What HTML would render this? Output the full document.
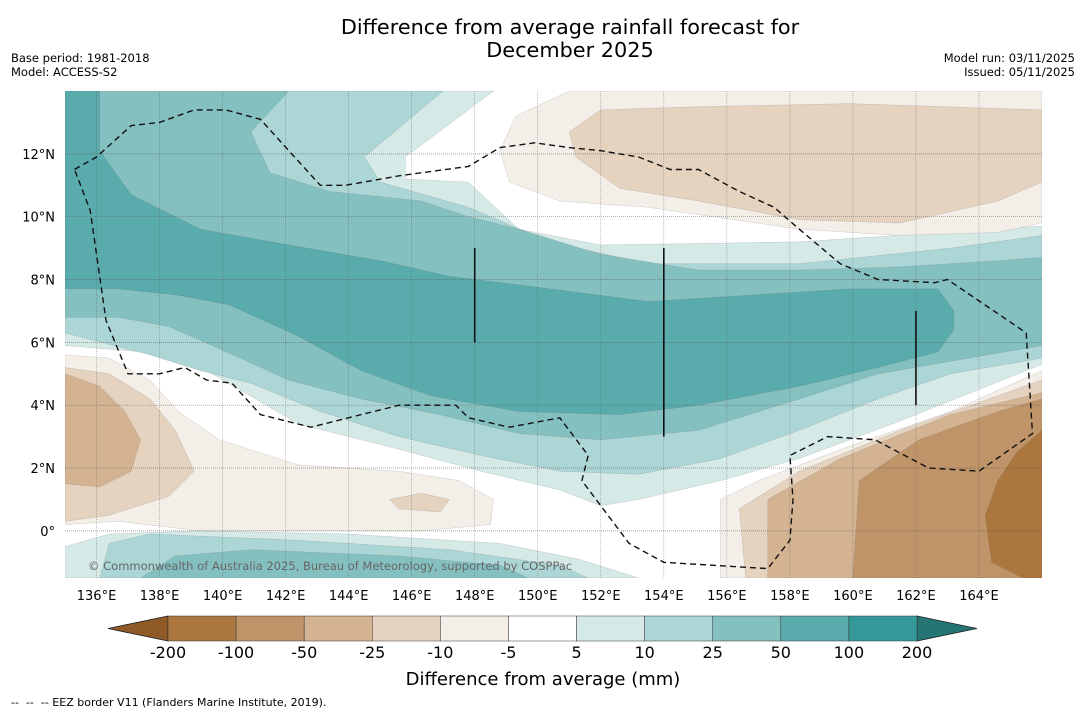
<!DOCTYPE html>
<html><head><meta charset="utf-8"><style>
body{margin:0;background:#fff;font-family:"Liberation Sans","DejaVu Sans",sans-serif;}
svg{display:block}
</style></head><body>
<svg width="1085" height="713" viewBox="0 0 1085 713" font-family="DejaVu Sans, Liberation Sans, sans-serif">
<rect x="0" y="0" width="1085" height="713" fill="#fff"/>
<text x="570" y="34" font-size="20.8" text-anchor="middle">Difference from average rainfall forecast for</text>
<text x="570" y="57" font-size="20.8" text-anchor="middle">December 2025</text>
<text x="11" y="62" font-size="11.5">Base period: 1981-2018</text>
<text x="11" y="76" font-size="11.5">Model: ACCESS-S2</text>
<text x="1075" y="62" font-size="11.5" text-anchor="end">Model run: 03/11/2025</text>
<text x="1075" y="76" font-size="11.5" text-anchor="end">Issued: 05/11/2025</text>
<defs><clipPath id="mapclip"><rect x="65" y="91" width="977" height="487"/></clipPath></defs>
<g id="map" clip-path="url(#mapclip)"></g>
<g id="axes"></g>
<g id="cbar"></g>
<text x="543" y="685" font-size="18" text-anchor="middle">Difference from average (mm)</text>
<text x="11" y="706" font-size="11" style="white-space:pre" xml:space="preserve">--  --  -- EEZ border V11 (Flanders Marine Institute, 2019).</text>
</svg>
<script>
const NS="http://www.w3.org/2000/svg";
// axis extents
const lonMin=135,lonMax=166,latMin=-1.5,latMax=14;
const lonTicks=[136,138,140,142,144,146,148,150,152,154,156,158,160,162,164];
const latTicks=[0,2,4,6,8,10,12];
const levelLabels=["-200","-100","-50","-25","-10","-5","5","10","25","50","100","200"];
const levelColors=["#ab773f","#bf9468","#d3b392","#e5d2bf","#f3eee8","#ffffff","#d5e9e7","#acd5d5","#85c0c0","#5aabac","#35999a"];
// contour regions in lon/lat
const teal5=[[135,14],[148.6,14],[145.8,11.9],[145.8,11.2],[147.8,11.1],[149.4,9.6],[152,9.1],[158.3,9.2],[166,9.7],[166,5.3],[161.5,3.5],[158.3,2.3],[155.8,1.6],[153.2,1.0],[152,0.8],[150.7,1.3],[148.2,1.9],[145.6,2.6],[142.4,3.4],[140.2,4.7],[138.6,5.6],[135,5.9]];
const teal10=[[135,14],[147.0,14],[144.5,11.9],[145,11.1],[147.8,10.3],[150.4,9.2],[153.5,8.5],[158.3,8.5],[163.1,9.0],[166,9.4],[166,5.5],[163.1,5.0],[160.8,4.2],[158.3,3.2],[155.8,2.3],[153.2,1.8],[150.7,1.9],[148.2,2.4],[145.6,3.0],[143.1,3.8],[140.9,4.7],[139.3,5.1],[137.7,5.6],[135,6.3]];
const teal25=[[135,14],[142.1,14],[140.9,12.7],[141.5,11.4],[143.4,10.8],[146.3,10.5],[147.8,10.0],[149.4,9.6],[152,8.8],[155.1,8.3],[158.3,8.3],[161.5,8.4],[164.6,8.6],[166,8.7],[166,5.9],[163.1,5.4],[160.8,5.0],[158.3,4.2],[155.1,3.2],[152,2.9],[149.4,3.1],[146.9,3.7],[144.4,4.2],[142.1,4.8],[139.9,5.8],[138.3,6.5],[136.7,6.8],[135,6.8]];
const teal50=[[135,14],[136.1,14],[136.1,12.1],[137.1,10.7],[139.3,9.6],[142.1,9.1],[145,8.6],[147.2,8.1],[150.4,7.7],[153.5,7.3],[156.7,7.5],[159.9,7.7],[162.7,7.7],[163.2,7.0],[163.2,6.4],[162.7,5.7],[160.8,5.2],[158.3,4.6],[155.1,4.0],[152.6,3.7],[149.4,3.8],[146.6,4.3],[144.4,5.1],[142.4,6.2],[140.2,7.2],[138.6,7.5],[136.7,7.7],[135,7.7]];
const southTeal5=[[135,-0.5],[136.4,-0.1],[139.3,0.0],[144.0,-0.1],[148.8,-0.4],[151.3,-0.9],[153.2,-1.5],[135,-1.5]];
const southTeal10=[[136.1,-1.5],[136.4,-0.4],[137.7,-0.1],[142.4,-0.3],[147.2,-0.6],[150.7,-1.1],[151.6,-1.5]];
const southTeal25=[[137.4,-1.5],[138.5,-0.8],[140.9,-0.6],[145.6,-0.8],[148.8,-1.1],[149.7,-1.5]];
const westDry10=[[135,5.6],[136.4,5.5],[137.7,4.8],[138.6,3.8],[139.9,2.9],[142.4,2.1],[145.6,1.9],[147.5,1.6],[148.6,1.0],[148.5,0.2],[146.3,0.0],[142.4,0.0],[139.3,0.0],[136.7,0.3],[135,0.2]];
const westDry25=[[135,5.2],[136.4,5.0],[137.7,4.2],[138.5,3.2],[139.1,1.9],[138.3,1.1],[136.4,0.5],[135,0.3]];
const westDry50=[[135,5.0],[136.1,4.6],[136.9,3.8],[137.4,2.9],[137.1,1.9],[136.1,1.4],[135,1.5]];
const blobDry25=[[145.3,1.0],[146.3,1.2],[147.2,1.0],[146.9,0.6],[145.6,0.7]];
const northDry10=[[151.0,14],[166,14],[166,9.8],[164.6,9.5],[161.5,9.4],[158.3,9.6],[153.5,10.3],[150.7,10.5],[149.1,11.1],[148.8,12.1],[149.3,13.2]];
const northDry25=[[151.0,12.7],[152,13.4],[155.1,13.5],[159.9,13.6],[166,13.4],[166,11.1],[164.6,10.5],[161.5,9.8],[158.3,9.9],[155.1,10.5],[152.6,10.9],[151.2,11.9]];
const eastDry10=[[155.8,-1.5],[155.8,1.0],[157.0,1.6],[159.9,2.7],[163.1,3.8],[166,5.1],[166,-1.5]];
const eastDry25=[[156.6,-1.5],[156.4,0.7],[158.3,1.9],[161.5,3.2],[166,4.8],[166,-1.5]];
const eastDry50=[[157.3,-1.5],[157.3,1.0],[159.6,2.3],[163.1,3.7],[166,4.4],[166,-1.5]];
const eastDry100=[[160,-1.5],[160.2,1.6],[162.1,2.9],[164.6,3.8],[166,4.2],[166,-1.5]];
const eastDry200=[[165.4,-1.5],[164.4,-1.0],[164.2,0.5],[164.6,1.6],[165.2,2.5],[166,3.2],[166,-1.5]];
const eez=[[135.3,11.5],[136.0,11.9],[137.1,12.9],[138.0,13.0],[139.1,13.4],[140.1,13.4],[141.2,13.1],[142.1,12.1],[143.1,11.0],[143.9,11.0],[145.6,11.3],[147.8,11.6],[148.8,12.2],[149.9,12.35],[151.0,12.2],[152.0,12.1],[153.2,11.9],[154.2,11.5],[155.1,11.5],[156.4,10.8],[157.5,10.3],[158.3,9.6],[159.6,8.5],[160.8,8.0],[162.6,7.9],[163.0,8.0],[165.5,6.3],[165.7,3.1],[164.0,1.9],[162.4,2.0],[160.7,2.9],[159.2,3.0],[158.0,2.4],[158.1,1.0],[158.0,-0.3],[157.3,-1.2],[154.0,-1.0],[152.9,-0.4],[151.4,1.6],[151.6,2.4],[150.7,3.6],[149.1,3.3],[147.8,3.6],[147.4,4.0],[145.6,4.0],[144.4,3.7],[142.8,3.3],[141.2,3.7],[140.3,4.7],[139.5,4.8],[138.8,5.2],[138.0,5.0],[137.0,5.0],[136.3,6.7],[135.8,10.2],[135.3,11.5]];
const boundaryLines=[[148,6,9],[154,3,9],[162,4,7]];

const X=lon=>65+(lon-lonMin)/(lonMax-lonMin)*977;
const Y=lat=>578-(lat-latMin)/(latMax-latMin)*487;
const pts=p=>p.map(d=>X(d[0]).toFixed(1)+","+Y(d[1]).toFixed(1)).join(" ");
const map=document.getElementById("map");
const regions=[[teal5,6,"wet-5-10"],[teal10,7,"wet-10-25"],[teal25,8,"wet-25-50"],[teal50,9,"wet-50-100"],
[southTeal5,6,"south-wet-5-10"],[southTeal10,7,"south-wet-10-25"],[southTeal25,8,"south-wet-25-50"],
[westDry10,4,"west-dry-10"],[westDry25,3,"west-dry-25"],[westDry50,2,"west-dry-50"],[blobDry25,3,"central-dry-25"],
[northDry10,4,"north-dry-10"],[northDry25,3,"north-dry-25"],
[eastDry10,4,"east-dry-10"],[eastDry25,3,"east-dry-25"],[eastDry50,2,"east-dry-50"],[eastDry100,1,"east-dry-100"],[eastDry200,0,"east-dry-200"]];
regions.forEach(r=>{
  const p=document.createElementNS(NS,"polygon");
  p.setAttribute("points",pts(r[0]));p.setAttribute("fill",levelColors[r[1]]);
  p.setAttribute("stroke","rgba(80,80,80,0.25)");p.setAttribute("stroke-width","0.5");
  
  
  map.appendChild(p);
});
lonTicks.forEach(l=>{
  const g=document.createElementNS(NS,"line");
  g.setAttribute("x1",X(l));g.setAttribute("x2",X(l));g.setAttribute("y1",91);g.setAttribute("y2",578);
  g.setAttribute("stroke","#555");g.setAttribute("stroke-width","0.6");g.setAttribute("stroke-dasharray","1,1");g.setAttribute("opacity","0.6");
  
  
  map.appendChild(g);
});
latTicks.forEach(l=>{
  const g=document.createElementNS(NS,"line");
  g.setAttribute("x1",65);g.setAttribute("x2",1042);g.setAttribute("y1",Y(l));g.setAttribute("y2",Y(l));
  g.setAttribute("stroke","#555");g.setAttribute("stroke-width","0.7");g.setAttribute("stroke-dasharray","1,1");g.setAttribute("opacity","0.7");
  
  
  map.appendChild(g);
});
const e=document.createElementNS(NS,"polyline");
e.setAttribute("points",pts(eez));e.setAttribute("fill","none");e.setAttribute("stroke","#111");
e.setAttribute("stroke-width","1.4");e.setAttribute("stroke-dasharray","6,4");


map.appendChild(e);
boundaryLines.forEach(b=>{
  const l=document.createElementNS(NS,"line");
  l.setAttribute("x1",X(b[0]));l.setAttribute("x2",X(b[0]));l.setAttribute("y1",Y(b[1]));l.setAttribute("y2",Y(b[2]));
  l.setAttribute("stroke","#111");l.setAttribute("stroke-width","1.6");
  
  
  map.appendChild(l);
});
const wm=document.createElementNS(NS,"text");
wm.setAttribute("x",88);wm.setAttribute("y",570);wm.setAttribute("font-size","11.5");wm.setAttribute("fill","#666");
wm.textContent="© Commonwealth of Australia 2025, Bureau of Meteorology, supported by COSPPac";


map.appendChild(wm);
const axes=document.getElementById("axes");
lonTicks.forEach(l=>{
  const t=document.createElementNS(NS,"text");
  t.setAttribute("x",X(l));t.setAttribute("y",600);t.setAttribute("font-size","13");t.setAttribute("text-anchor","middle");
  t.textContent=l+"°E";
  
  
  axes.appendChild(t);
});
latTicks.forEach(l=>{
  const t=document.createElementNS(NS,"text");
  t.setAttribute("x",55);t.setAttribute("y",Y(l)+5);t.setAttribute("font-size","13");t.setAttribute("text-anchor","end");
  t.textContent=l===0?"0°":l+"°N";
  
  
  axes.appendChild(t);
});
const cb=document.getElementById("cbar");
const cx0=168,cx1=917,cy0=616,cy1=641,n=levelColors.length,w=(cx1-cx0)/n;
const lt=document.createElementNS(NS,"polygon");
lt.setAttribute("points",`108,628.5 ${cx0},${cy0} ${cx0},${cy1}`);lt.setAttribute("fill","#8f5a28");lt.setAttribute("stroke","#222");lt.setAttribute("stroke-width","0.8");


cb.appendChild(lt);
const rt=document.createElementNS(NS,"polygon");
rt.setAttribute("points",`977,628.5 ${cx1},${cy0} ${cx1},${cy1}`);rt.setAttribute("fill","#267575");rt.setAttribute("stroke","#222");rt.setAttribute("stroke-width","0.8");


cb.appendChild(rt);
levelColors.forEach((c,i)=>{
  const r=document.createElementNS(NS,"rect");
  r.setAttribute("x",cx0+i*w);r.setAttribute("y",cy0);r.setAttribute("width",w);r.setAttribute("height",cy1-cy0);
  r.setAttribute("fill",c);r.setAttribute("stroke","#333");r.setAttribute("stroke-width","0.5");
  
  
  cb.appendChild(r);
});
levelLabels.forEach((s,i)=>{
  const t=document.createElementNS(NS,"text");
  t.setAttribute("x",cx0+i*w);t.setAttribute("y",658);t.setAttribute("font-size","16");t.setAttribute("text-anchor","middle");
  t.textContent=s;
  
  
  cb.appendChild(t);
});
</script>
</body></html>
